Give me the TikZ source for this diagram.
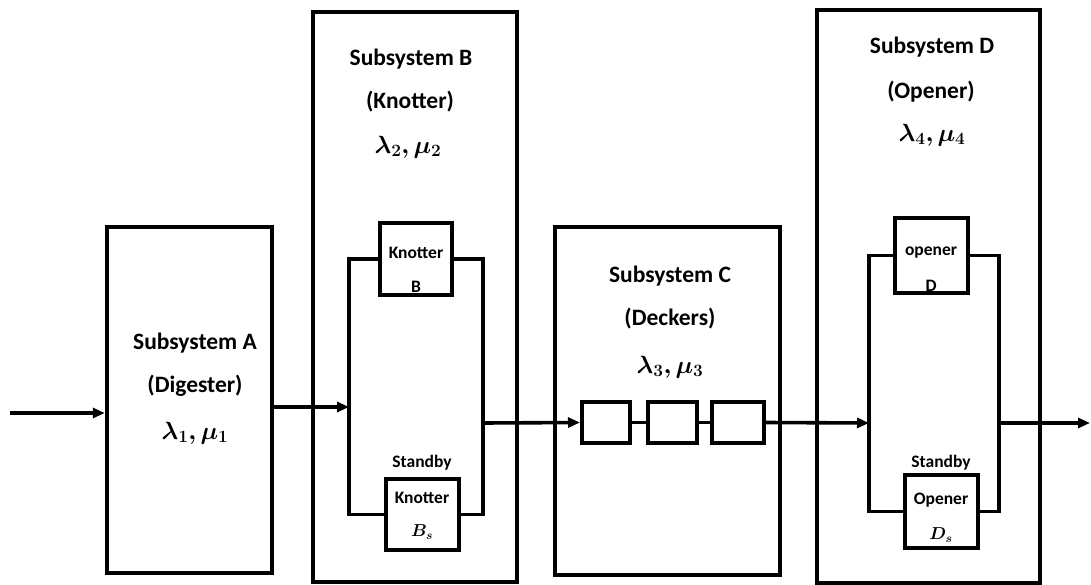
\documentclass[tikz,border=0pt]{standalone}
\usepackage{amsmath,bm}
\usepackage{fontspec}
\setmainfont{Carlito}
\usetikzlibrary{arrows.meta}

\begin{document}
\begin{tikzpicture}[x=1pt,y=-1pt,line width=3.6pt,
  bigbox/.style={draw,line width=4.5pt,inner sep=0pt},
  unitbox/.style={draw,line width=4pt,inner sep=0pt},
  headtext/.style={inner sep=0pt,font=\fontsize{23.5}{28}\selectfont\bfseries},
  unittext/.style={inner sep=0pt,font=\fontsize{17.5}{21}\selectfont\bfseries},
  flow/.style={-{Triangle[length=12pt,width=10pt]}}]
\path[use as bounding box] (0,0) rectangle (1091,585);
% subsystem frames
\node[bigbox,minimum width=165pt,minimum height=346pt] (A) at (189.5,400) {};
\node[bigbox,minimum width=204pt,minimum height=570pt] (B) at (415,297) {};
\node[bigbox,minimum width=225pt,minimum height=348pt] (C) at (667.5,401) {};
\node[bigbox,minimum width=223pt,minimum height=573pt] (D) at (928.5,296.5) {};
% headings
\node[headtext] (A1) at (195,343) {Subsystem A};
\node[headtext] (A2) at (195,386) {(Digester)};
\node[headtext] (A3) at (195,433) {$\bm{\lambda_1{,}\,\mu_1}$};
\node[headtext] (B1) at (411,59) {Subsystem B};
\node[headtext] (B2) at (410,102) {(Knotter)};
\node[headtext] (B3) at (408,147) {$\bm{\lambda_2{,}\,\mu_2}$};
\node[headtext] (C1) at (670,276) {Subsystem C};
\node[headtext] (C2) at (670,319) {(Deckers)};
\node[headtext] (C3) at (670,367) {$\bm{\lambda_3{,}\,\mu_3}$};
\node[headtext] (D1) at (932,47) {Subsystem D};
\node[headtext] (D2) at (931,92) {(Opener)};
\node[headtext] (D3) at (932,135) {$\bm{\lambda_4{,}\,\mu_4}$};
% units of B
\node[unitbox,minimum width=72pt,minimum height=72pt] (kB) at (416,259) {};
\node[unittext] (kB1) at (416,253) {Knotter};
\node[unittext] (kB2) at (416,287) {B};
\node[unittext] (sB) at (422,463) {Standby};
\node[unitbox,minimum width=73pt,minimum height=71pt] (kBs) at (422.5,514.5) {};
\node[unittext] (kBs1) at (422,498) {Knotter};
\node[unittext] (kBs2) at (422,532) {$\bm{B_s}$};
% units of C
\node[unitbox,minimum width=48pt,minimum height=41pt] (c1) at (606,422.5) {};
\node[unitbox,minimum width=49pt,minimum height=41pt] (c2) at (672.5,422.5) {};
\node[unitbox,minimum width=52pt,minimum height=41pt] (c3) at (738,422.5) {};
% units of D
\node[unitbox,minimum width=73pt,minimum height=75pt] (oD) at (931.5,255.5) {};
\node[unittext] (oD1) at (931,253) {opener};
\node[unittext] (oD2) at (931,286) {D};
\node[unittext] (sD) at (941,463) {Standby};
\node[unitbox,minimum width=73pt,minimum height=73pt] (oDs) at (941.5,511.5) {};
\node[unittext] (oDs1) at (941,500) {Opener};
\node[unittext] (oDs2) at (941,535) {$\bm{D_s}$};
% bus points
\coordinate (in) at (10,413);
\coordinate (bl) at (349,407);
\coordinate (br) at (483,423);
\coordinate (dl) at (869,423);
\coordinate (dr) at (999,423);
\coordinate (out) at (1090,423);
% connectors
\draw[flow] (in) -- (in -| A.west);
\draw[flow] (bl -| A.east) -- (bl);
\draw (kB.west) -- (kB.west -| bl) -- (kBs.west -| bl) -- (kBs.west);
\draw (kB.east) -- (kB.east -| br) -- (kBs.east -| br) -- (kBs.east);
\draw[flow] (br) -- (c1.west);
\draw (c1.east) -- (c2.west);
\draw (c2.east) -- (c3.west);
\draw[flow] (c3.east) -- (dl);
\draw (oD.west) -- (oD.west -| dl) -- (oDs.west -| dl) -- (oDs.west);
\draw (oD.east) -- (oD.east -| dr) -- (oDs.east -| dr) -- (oDs.east);
\draw[flow] (dr) -- (out);
\end{tikzpicture}
\end{document}
